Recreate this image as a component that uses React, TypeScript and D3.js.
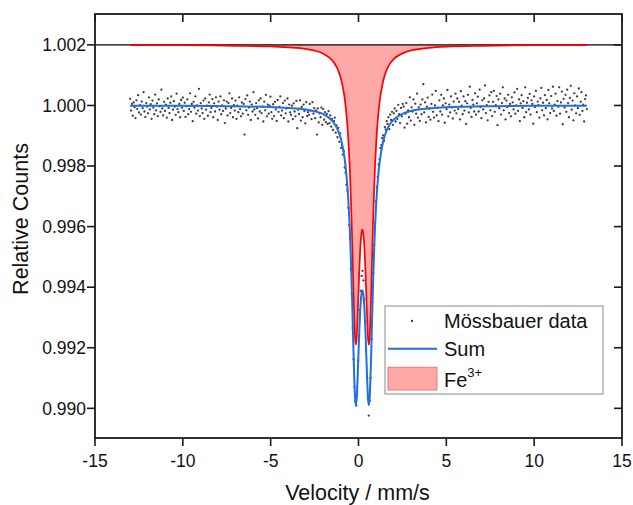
import React from 'react';
import * as d3 from 'd3';

// ---------- data ----------
const xTicks = [-15, -10, -5, 0, 5, 10, 15];
const yTicks = [0.99, 0.992, 0.994, 0.996, 0.998, 1.0, 1.002];
const velocityRange = [-13, 13]; // channel velocities, linear
// relative counts of each channel, as deviation from 1 in units of 1e-5
const countsDevE5 = [
  22, -17, 5, -34, 10, -5, -42, 17, -12, 34, -23, 1, -30, 13, -9, 44, -20, -38, 8, -4,
  -26, 27, -13, 4, -44, 16, -7, -29, 36, -16, 7, -35, 20, -3, -21, 52, -10, -33, 12, -18,
  3, -40, 23, -8, -25, 9, 30, -48, -14, 14, -4, -31, 39, -12, -22, 5, -39, 18, -7, 26,
  -18, 9, -38, -3, 20, -29, -12, 40, -21, 5, -52, 12, -7, 30, -27, 0, -17, 55, -35, 8,
  -10, -25, 16, -44, 23, -14, -1, -34, 10, 36, -22, -8, 21, -39, 7, -20, 27, -4, -48, 13,
  -14, 30, -29, 0, -18, 17, -58, -10, 13, -33, 8, 40, -25, -8, 23, -39, 1, -17, 16, -44,
  -1, -22, 27, -12, -36, 10, -27, 5, -96, 21, -16, 33, -31, -7, 13, -48, 3, -20, 44, -13,
  -31, 8, -9, -43, 17, -20, 23, -25, -4, -53, 13, -16, 35, -36, 3, -27, -1, 29, -22, -44,
  4, -35, 12, -13, -51, 18, -21, -5, 30, -33, -17, 8, -42, 16, -26, -10, 23, -53, 3, -23,
  -31, -1, -45, 7, -20, -36, 15, -75, -14, -28, 17, -50, -5, -39, 3, -18, -59, 11, -35, -22,
  -31, 5, -17, -45, 11, -27, -9, -42, -17, -96, -10, -56, -26, -39, -7, -64,
  -12, -47, -22, -55, -28, -61, -19, -58, -33, -70, -44, -81, -52, -40, -90, -66, -105, -74, -120, -92,
  -140, -131, -162, -150, -205, -222, -262, -281, -338, -395, -441, -540, -622, -735, -838, -930, -975, -991, -946, -842,
  -760, -676, -612, -563, -546, -578, -640, -712, -810, -902, -968, -1024, -975, -899, -772, -650, -553, -461, -389, -317,
  -270, -236, -195, -178, -140, -131, -108, -99, -117, -72, -80, -52, -61, -39, -78, -30, -48, -21, -64, -26,
  -10, -53, -18, -45, 2, -29, -58, -8, -36, 5,
  -4, -73, -27, 8, -60, -16, -39, 27, -50, -6, -20, 20, -64, 6, -27, 39, -40, -6, -51, 3,
  -29, 20, 70, -23, 10, -56, -4, 26, -38, -10, -47, 5, 36, -21, -40, 0, 48, -33, -8, -52,
  17, -20, 35, -30, 0, 23, -57, 7, -12, 51, -36, 3, -23, 30, -7, -43, 13, -17, 39, -26,
  23, -12, 12, -46, 47, -1, -29, 30, -17, 14, -61, 7, 35, -23, 62, -8, -38, 18, 3, -20,
  40, -30, 7, 29, -20, 52, -5, -42, 17, -13, 23, 66, -25, 1, -49, 12, 33, -16, 44, -35,
  12, 48, -21, 1, 31, -65, 20, -9, 39, -30, 8, 60, -16, 23, -46, 16, -5, 35, -25, 5,
  -36, 27, 10, -13, 43, -27, 0, 55, -18, 20, -52, 7, 34, -8, 14, -39, 60, -22, 9, 25,
  -13, 38, -30, 17, 5, -60, 30, -5, 48, -22, 13, 1, -40, 23, 58, -16, 9, -33, 34, -9,
  18, -46, 51, 7, -25, 31, -10, 62, -18, 3, 39, -34, 14, -4, 60, -27, 10, 46, -62, 22,
  -7, 35, -21, 52, 8, -39, 25, 65, -14, 16, -49, 40, 0, -26, 30, -9, 56, -31, 12, 44, -18, 3, -53, 21, 33, -12,
];
const fitVelocity = [
  -13, -10, -7, -5, -4, -3, -2.5, -2, -1.5, -1.2, -1.0, -0.8, -0.7, -0.6, -0.5, -0.45, -0.4, -0.35,
  -0.3, -0.25, -0.2, -0.16, -0.1, -0.05, 0, 0.05, 0.1, 0.16, 0.22, 0.28, 0.34, 0.4, 0.45, 0.5, 0.55,
  0.6, 0.65, 0.7, 0.75, 0.8, 0.85, 0.9, 1.0, 1.1, 1.2, 1.4, 1.6, 1.8, 2.0, 2.5, 3, 4, 5, 7, 10, 13,
];
const sumCounts = [
  0.99999, 0.99999, 0.99997, 0.99995, 0.99992, 0.99987, 0.99981, 0.99971, 0.99949, 0.99922, 0.99889,
  0.99829, 0.99779, 0.99707, 0.99597, 0.99523, 0.99434, 0.99331, 0.9922, 0.99115, 0.99038, 0.9901,
  0.99035, 0.99101, 0.99183, 0.99262, 0.99326, 0.99374, 0.9939, 0.99374, 0.99326, 0.99248, 0.99167,
  0.99085, 0.99026, 0.9901, 0.9905, 0.99134, 0.99242, 0.99353, 0.99453, 0.99539, 0.99668, 0.99754,
  0.99811, 0.9988, 0.99917, 0.99939, 0.99953, 0.99972, 0.99982, 0.9999, 0.99994, 0.99997, 0.99999, 0.99999,
];
const fe3Counts = [
  1.00199, 1.00199, 1.00197, 1.00195, 1.00192, 1.00187, 1.00181, 1.00171, 1.00149, 1.00122, 1.00089,
  1.00029, 0.99979, 0.99907, 0.99797, 0.99723, 0.99634, 0.99531, 0.9942, 0.99315, 0.99238, 0.9921,
  0.99235, 0.99301, 0.99383, 0.99462, 0.99526, 0.99574, 0.9959, 0.99574, 0.99526, 0.99448, 0.99367,
  0.99285, 0.99226, 0.9921, 0.9925, 0.99334, 0.99442, 0.99553, 0.99653, 0.99739, 0.99868, 0.99954,
  1.00011, 1.0008, 1.00117, 1.00139, 1.00153, 1.00172, 1.00182, 1.0019, 1.00194, 1.00197, 1.00199, 1.00199,
];
const fe3Baseline = 1.002;

// ---------- layout ----------
const W = 633;
const H = 505;
const L = 95, R = 622, T = 14, B = 438;
const FONT = "'Liberation Sans', Arial, Helvetica, sans-serif";

export default function App() {
  const x = d3.scaleLinear().domain([-15, 15]).range([L, R]);
  const y = d3.scaleLinear().domain([0.98902, 1.00302]).range([B, T]);

  const n = countsDevE5.length;
  const step = (velocityRange[1] - velocityRange[0]) / (n - 1);
  const points = countsDevE5.map((d, i) => ({ v: velocityRange[0] + i * step, c: 1 + d * 1e-5 }));

  const sumPts = fitVelocity.map((v, i) => [v, sumCounts[i]] as [number, number]);
  const fePts = fitVelocity.map((v, i) => [v, fe3Counts[i]] as [number, number]);

  const line = d3
    .line<[number, number]>()
    .x((d) => x(d[0]))
    .y((d) => y(d[1]))
    .curve(d3.curveMonotoneX);
  const area = d3
    .area<[number, number]>()
    .x((d) => x(d[0]))
    .y0(() => y(fe3Baseline))
    .y1((d) => y(d[1]))
    .curve(d3.curveMonotoneX);

  const axisColor = '#1a1a1a';
  const tickW = 1.6;
  const fmt = d3.format('.3f');

  return (
    <svg
      width={W}
      height={H}
      style={{ position: 'absolute', left: 0, top: 0, background: '#fff' }}
      fontFamily={FONT}
    >
      <rect x={0} y={0} width={W} height={H} fill="#fff" />
      {/* Fe3+ component */}
      <path d={area(fePts) || ''} fill="#ffa8a8" stroke="none" />
      <line x1={L} x2={R} y1={y(fe3Baseline)} y2={y(fe3Baseline)} stroke="#000" strokeWidth={1.3} />
      <path d={line(fePts) || ''} fill="none" stroke="#ff0000" strokeWidth={1.7} />
      {/* data */}
      {points.map((p, i) => (
        <circle key={i} cx={x(p.v)} cy={y(p.c)} r={1.15} fill="#3c3c3c" />
      ))}
      {/* sum */}
      <path d={line(sumPts) || ''} fill="none" stroke="#1f6fe4" strokeWidth={2} />

      {/* frame */}
      <rect x={L} y={T} width={R - L} height={B - T} fill="none" stroke={axisColor} strokeWidth={1.8} />
      {xTicks.map((t) => (
        <g key={'x' + t}>
          <line x1={x(t)} x2={x(t)} y1={B} y2={B + 8} stroke={axisColor} strokeWidth={tickW} />
          <line x1={x(t)} x2={x(t)} y1={T} y2={T + 8} stroke={axisColor} strokeWidth={tickW} />
          <text x={x(t)} y={467} textAnchor="middle" fontSize={17.5} fill="#111">
            {t}
          </text>
        </g>
      ))}
      {yTicks.map((t) => (
        <g key={'y' + t}>
          <line x1={L - 8} x2={L} y1={y(t)} y2={y(t)} stroke={axisColor} strokeWidth={tickW} />
          <line x1={R - 8} x2={R} y1={y(t)} y2={y(t)} stroke={axisColor} strokeWidth={tickW} />
          <text x={86} y={y(t) + 6.2} textAnchor="end" fontSize={17.5} fill="#111">
            {fmt(t)}
          </text>
        </g>
      ))}

      {/* axis titles */}
      <text x={357.5} y={500} textAnchor="middle" fontSize={21.5} fill="#111">
        Velocity / mm/s
      </text>
      <text transform="translate(28,219) rotate(-90)" textAnchor="middle" fontSize={21.5} fill="#111">
        Relative Counts
      </text>

      {/* legend */}
      <rect x={385} y={306} width={218} height={88} fill="#fff" stroke="#8a8a8a" strokeWidth={1} />
      <circle cx={412} cy={321} r={1.15} fill="#3c3c3c" />
      <text x={444} y={328.3} fontSize={20} fill="#111">Mössbauer data</text>
      <line x1={388} x2={437} y1={348.7} y2={348.7} stroke="#1f6fe4" strokeWidth={2} />
      <text x={444} y={356} fontSize={20} fill="#111">Sum</text>
      <rect x={388} y={367.3} width={49} height={22.7} fill="#ffa8a8" stroke="#d98080" strokeWidth={1} />
      <text x={444} y={386.7} fontSize={20} fill="#111">
        Fe
        <tspan fontSize={13} dy={-9.5}>3+</tspan>
      </text>
    </svg>
  );
}
